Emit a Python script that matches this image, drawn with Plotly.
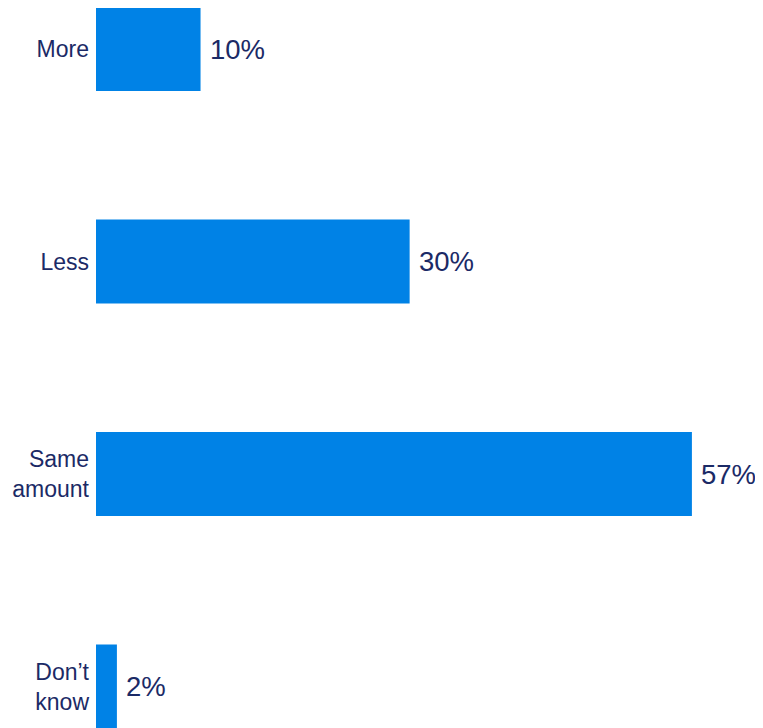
import plotly.graph_objects as go

categories = ["More", "Less", "Same<br>amount", "Don’t<br>know"]
values = [10, 30, 57, 2]
value_labels = ["10%", "30%", "57%", "2%"]

bar_color = "#0082E6"
text_color = "#1B2A66"

fig = go.Figure()
fig.add_trace(go.Bar(
    x=values, y=categories, orientation="h",
    marker=dict(color=bar_color, line=dict(width=0)),
    width=0.395, hoverinfo="skip",
))

for c, v, t in zip(categories, values, value_labels):
    fig.add_annotation(x=v, y=c, text=t, showarrow=False, xanchor="left",
                       yanchor="middle", xshift=7,
                       font=dict(family="Liberation Sans, Arial", size=27.5, color=text_color))

fig.update_layout(
    width=755, height=720,
    margin=dict(l=88, r=0, t=0, b=0),
    paper_bgcolor="white", plot_bgcolor="white",
    showlegend=False,
    xaxis=dict(range=[0, 63.8], visible=False, fixedrange=True),
    yaxis=dict(
        type="category",
        categoryorder="array", categoryarray=categories,
        range=[3.195, -0.193],
        showgrid=False, zeroline=False, showline=False,
        ticks="", ticklabelstandoff=6,
        tickfont=dict(family="Liberation Sans, Arial", size=23, color=text_color),
    ),
)

fig.write_html("out.html")
